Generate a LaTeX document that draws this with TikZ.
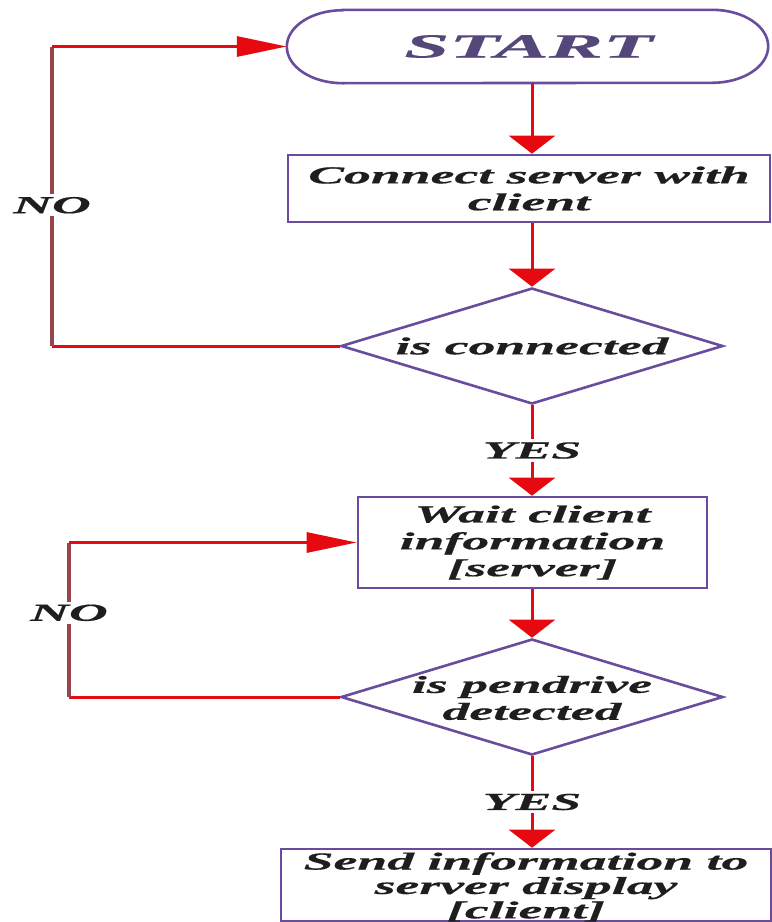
\documentclass[tikz,border=0pt]{standalone}
\usepackage{fontspec}
\newfontfamily\flowfont[FakeStretch=2.2,FakeBold=0.6]{Liberation Serif}
\newfontfamily\termfont[FakeStretch=2.4,FakeBold=0.6]{Liberation Serif}
\usetikzlibrary{shapes.geometric,arrows.meta}
\definecolor{frame}{RGB}{106,76,158}
\definecolor{flow}{RGB}{230,10,16}
\definecolor{loopv}{RGB}{150,70,75}
\definecolor{ink}{RGB}{30,30,30}
\definecolor{startink}{RGB}{84,72,122}
\begin{document}
\begin{tikzpicture}[x=1bp,y=-1bp,
  lbl/.style={font=\flowfont\bfseries\itshape\fontsize{24.5}{27}\selectfont,
              text=ink, align=center, inner sep=0pt},
  procbox/.style={draw=frame, line width=2.6bp, rectangle, inner sep=0pt},
  dia/.style={draw=frame, line width=2.6bp, diamond, inner sep=0pt,
              minimum width=382bp, minimum height=116bp},
  flowline/.style={draw=flow, line width=3bp},
  loopline/.style={draw=loopv, line width=3.4bp},
  downarrow/.style={flowline, -{Triangle[length=18bp,width=46bp]}},
  sidearrow/.style={flowline, -{Triangle[length=50bp,width=20bp]}},
  tag/.style={lbl, fill=white, inner sep=3bp}]

% canvas
\fill[white] (0,0) rectangle (772,922);
\useasboundingbox (0,0) rectangle (772,922);

% terminal
\node[minimum width=481bp, minimum height=73bp, inner sep=0pt] (start) at (527.5,46.5) {};
\draw[draw=frame, line width=2.6bp]
  ([xshift=56bp]start.north west) -- ([xshift=-56bp]start.north east)
  arc[start angle=90, end angle=-90, x radius=56bp, y radius=36.5bp]
  -- ([xshift=56bp]start.south west)
  arc[start angle=270, end angle=90, x radius=56bp, y radius=36.5bp] -- cycle;
\node[lbl, text=startink, font=\termfont\bfseries\itshape\fontsize{34}{40}\selectfont]
  at ([xshift=1bp]start.center) {START};

% process steps and decisions
\node[procbox, minimum width=482bp, minimum height=67bp] (connect) at (529,188.5) {};
\node[lbl] at (connect.center) {Connect server with\\client};

\node[dia] (isconn) at (532,346) {};
\node[lbl] at (isconn.center) {is connected};

\node[procbox, minimum width=349bp, minimum height=91bp] (wait) at (532.5,542.5) {};
\node[lbl] at (wait.center) {Wait client\\information\\{[}server{]}};

\node[dia] (ispen) at (532,697) {};
\node[lbl] at ([yshift=-1bp]ispen.center) {is pendrive\\detected};

\node[procbox, minimum width=490bp, minimum height=72bp] (send) at (526,885) {};
\node[lbl, font=\flowfont\bfseries\itshape\fontsize{24.5}{24.5}\selectfont]
  at ([yshift=-2bp]send.center) {Send information to\\server display\\{[}client{]}};

% main flow
\draw[downarrow] (start.south -| 532,0) -- (connect.north -| 532,0);
\draw[downarrow] (connect.south -| 532,0) -- (isconn.north);
\draw[downarrow] (isconn.south) -- node[tag] {YES} (wait.north -| 532,0);
\draw[downarrow] (wait.south -| 532,0) -- (ispen.north);
\draw[downarrow] (ispen.south) -- node[tag] {YES} (send.north -| 532,0);

% retry loops
\coordinate (l1a) at (52,346);
\coordinate (l1b) at (52,46.5);
\draw[flowline] (isconn.west) -- (l1a);
\draw[loopline] (l1a) -- node[tag, pos=0.47] {NO} (l1b);
\draw[sidearrow] (l1b) -- (start.west);

\coordinate (l2a) at (69,697);
\coordinate (l2b) at (69,542.5);
\draw[flowline] (ispen.west) -- (l2a);
\draw[loopline] (l2a) -- node[tag, pos=0.545] {NO} (l2b);
\draw[sidearrow] (l2b) -- (wait.west);
\end{tikzpicture}
\end{document}
